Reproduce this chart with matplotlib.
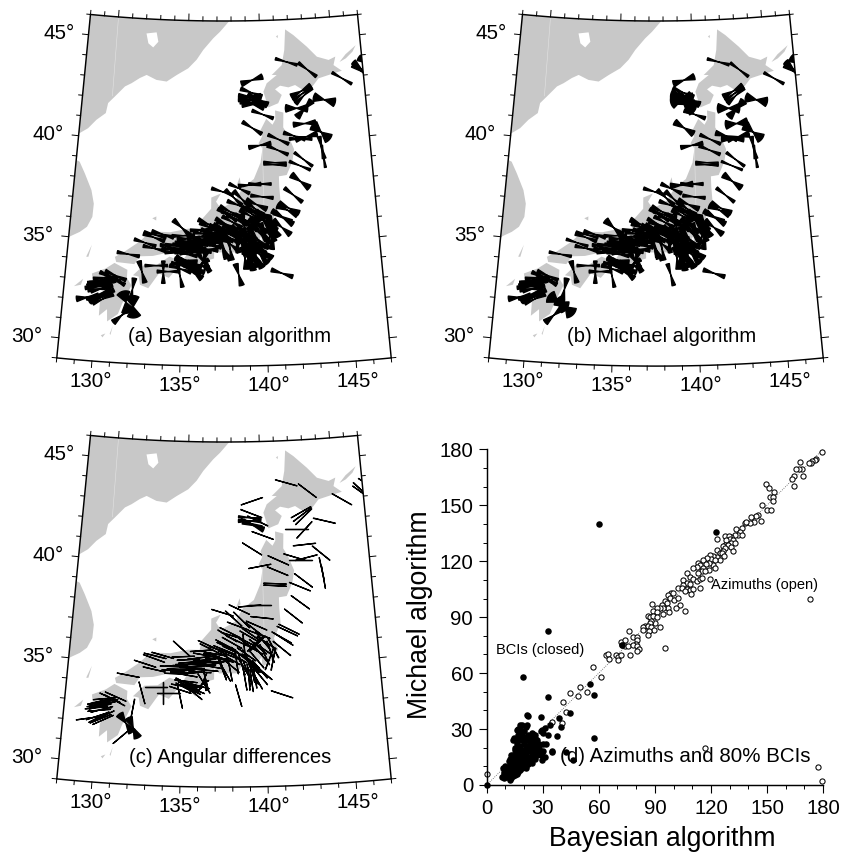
import numpy as np
import matplotlib
matplotlib.use('Agg')
import matplotlib.pyplot as plt
from matplotlib.collections import PolyCollection
from matplotlib.patches import Polygon

plt.rcParams['font.family'] = ['Liberation Sans', 'DejaVu Sans']

# ---- stress stations (lon, lat, azimuth and 80% BCI width for both algorithms) ----
stn_lon = [
    141.79, 143.21, 145.52, 146.91, 146.91, 147.39,
    139.40, 139.34, 139.23, 139.22, 139.33, 139.46, 139.76, 140.07,
    142.70, 142.78, 142.86, 142.34, 142.86, 144.23, 142.81, 143.87, 142.11, 142.89, 142.51, 143.84,
    143.92, 139.35, 141.05, 139.83, 140.98, 140.78, 140.78, 142.37, 142.62, 142.35, 141.87,
    139.78, 139.13, 138.47, 137.40, 138.11, 139.89, 138.61, 139.54, 139.41, 138.37,
    137.87, 137.71, 138.02, 137.60, 137.70, 137.50, 136.64, 138.74, 139.56, 139.46,
    140.14, 141.08, 141.45, 141.56, 141.20, 141.07, 140.54, 140.37, 140.52, 140.28,
    139.13, 139.20, 139.30, 138.28, 138.58, 139.22, 139.02, 139.17, 139.38, 138.38, 140.98,
    136.95, 137.05, 136.95, 137.25, 137.40, 137.55, 137.87, 136.29, 136.35,
    134.89, 133.27, 133.74, 133.21, 132.68, 133.25, 131.70, 132.58, 133.42, 133.86, 134.16, 134.87,
    134.87, 135.21, 135.20, 135.20, 135.37, 135.50, 135.66, 135.95, 136.19, 136.00, 136.40,
    135.06, 135.83, 134.93, 136.04, 134.72, 135.32, 135.93, 136.12, 136.54, 137.25, 135.07, 135.40,
    136.64, 136.03, 136.65, 136.74, 137.40, 137.88, 138.48, 138.07, 138.89, 138.99, 139.50, 139.89,
    139.48, 138.77, 139.08, 139.69,
    131.02, 130.99, 130.13, 130.00, 130.14, 129.92, 130.37, 130.15, 130.50, 129.45, 130.22, 130.37,
    130.12, 132.07, 131.72, 132.17, 131.53,
    139.9, 139.7, 140.0, 139.6, 139.3, 139.0, 138.8, 138.3, 138.0, 139.1, 139.2, 139.7, 139.9,
    134.3, 134.6, 134.4, 135.2, 135.5, 135.7, 136.0, 136.3, 136.3, 136.45, 135.5, 135.2, 134.6,
    135.0, 136.3, 137.0, 137.4, 137.9, 138.3, 137.8, 138.7, 138.9, 139.5, 139.7, 139.3, 139.0,
    135.3, 135.0, 135.5, 135.2, 135.7,
    130.2, 130.3, 130.05, 130.4, 130.25, 130.1, 130.4, 130.0, 130.7,
]
stn_lat = [
    43.92, 43.48, 42.94, 43.29, 43.18, 43.55,
    43.07, 42.46, 42.26, 42.10, 41.97, 41.87, 42.09, 41.37,
    42.44, 42.32, 42.21, 41.61, 41.56, 41.95, 40.84, 40.37, 40.25, 40.19, 40.10, 39.61,
    39.17, 40.72, 40.12, 39.85, 39.59, 38.98, 38.88, 38.78, 39.08, 38.01, 37.35,
    37.95, 37.91, 37.74, 37.59, 37.30, 37.32, 37.23, 36.94, 36.75, 36.93,
    36.61, 36.45, 36.45, 36.00, 35.89, 35.76, 35.81, 35.99, 36.04, 36.06,
    36.08, 36.32, 36.62, 36.71, 36.23, 35.78, 35.82, 35.63, 35.26, 35.27,
    35.20, 35.05, 35.02, 35.13, 35.05, 34.70, 34.32, 34.24, 34.40, 33.50, 33.52,
    35.54, 35.33, 35.17, 35.13, 34.80, 34.70, 34.77, 34.10, 34.30,
    35.79, 35.39, 35.43, 35.26, 34.98, 34.72, 34.37, 33.54, 33.88, 33.57, 33.61, 33.40,
    33.76, 34.09, 34.19, 34.10, 33.96, 33.82, 33.65, 33.98, 34.10, 33.95, 34.27,
    34.93, 34.93, 34.62, 34.65, 34.77, 35.26, 35.35, 35.71, 35.98, 35.75, 34.71, 35.13,
    35.13, 34.96, 34.94, 35.53, 34.90, 35.31, 35.53, 35.70, 35.53, 35.28, 35.28, 34.63,
    34.30, 34.32, 34.97, 34.78,
    33.28, 33.09, 33.00, 32.83, 32.74, 32.67, 33.14, 32.70, 33.03, 32.11, 32.14, 32.09,
    32.21, 32.66, 32.01, 31.80, 31.35,
    35.8, 35.6, 35.5, 35.9, 35.8, 36.0, 36.2, 36.2, 36.1, 36.4, 36.5, 36.5, 36.2,
    34.9, 34.95, 34.7, 35.05, 34.85, 35.05, 35.15, 35.25, 35.05, 34.75, 34.6, 34.5, 34.55,
    35.4, 35.5, 35.55, 35.3, 35.0, 35.4, 35.5, 34.9, 34.7, 34.9, 34.45, 34.55, 34.5,
    33.9, 33.95, 34.05, 33.85, 33.8,
    32.95, 32.85, 32.9, 32.9, 32.6, 32.55, 32.3, 32.25, 33.2,
]
az_bayes = [
    106, 127, 120, 132, 125, 121,
    71, 110, 90, 99, 102, 98, 117, 110,
    61, 53, 45, 90, 42, 104, 84, 130, 107, 75, 90, 167,
    170, 122, 114, 79, 113, 92, 93, 112, 127, 126, 128,
    90, 85, 115, 107, 133, 96, 135, 114, 128, 111,
    117, 122, 107, 118, 115, 112, 117, 174, 45, 45,
    124, 120, 115, 116, 123, 130, 153, 162, 10, 20,
    130, 140, 135, 172, 163, 168, 176, 171, 170, 164, 108,
    93, 93, 87, 76, 159, 150, 169, 148, 175,
    133, 104, 106, 110, 108, 103, 101, 165, 90, 0, 90, 168,
    108, 115, 97, 118, 112, 120, 130, 105, 23, 59, 166,
    94, 85, 92, 92, 92, 87, 83, 86, 115, 108, 85, 85,
    95, 85, 100, 110, 162, 120, 130, 115, 125, 150, 140, 130,
    150, 170, 160, 140,
    114, 119, 77, 78, 77, 83, 85, 92, 82, 82, 68, 66,
    63, 10, 165, 175, 50,
    125, 140, 155, 130, 120, 125, 118, 115, 120, 120, 125, 110, 140,
    92, 87, 95, 90, 92, 88, 85, 85, 95, 95, 85, 100, 92,
    88, 100, 100, 105, 130, 120, 112, 150, 160, 135, 140, 155, 172,
    108, 100, 110, 118, 112,
    80, 78, 85, 80, 75, 85, 65, 72, 115,
]
az_michael = [
    105, 127, 119, 134, 126, 122,
    71, 112, 100, 82, 118, 125, 115, 110,
    60, 52, 46, 90, 43, 102, 83, 128, 106, 76, 90, 168,
    170, 122, 114, 79, 112, 92, 93, 112, 127, 126, 128,
    90, 85, 115, 107, 132, 96, 133, 113, 127, 110,
    116, 121, 107, 117, 115, 112, 116, 175, 47, 47,
    122, 119, 115, 116, 122, 128, 150, 160, 12, 22,
    128, 138, 134, 172, 163, 168, 176, 172, 171, 164, 108,
    93, 93, 87, 77, 159, 150, 169, 148, 175,
    132, 104, 106, 110, 108, 103, 101, 165, 90, 0, 90, 168,
    108, 114, 97, 116, 112, 119, 129, 105, 24, 58, 166,
    94, 85, 92, 93, 92, 87, 83, 86, 115, 108, 85, 85,
    95, 85, 100, 110, 162, 120, 129, 115, 125, 149, 140, 130,
    150, 170, 160, 140,
    114, 118, 77, 79, 77, 84, 85, 92, 82, 82, 68, 66,
    63, 12, 125, 135, 50,
    124, 139, 154, 130, 119, 125, 118, 115, 119, 120, 124, 110, 140,
    92, 87, 94, 90, 92, 88, 85, 86, 95, 95, 85, 100, 92,
    88, 100, 100, 105, 129, 120, 112, 149, 160, 135, 140, 154, 172,
    108, 100, 110, 117, 112,
    80, 78, 85, 80, 76, 85, 65, 72, 115,
]
bci_bayes = [
    10, 12, 10, 22, 18, 25,
    22, 15, 25, 28, 30, 35, 25, 12,
    22, 15, 16, 30, 25, 35, 20, 42, 14, 22, 12, 15,
    8, 14, 12, 16, 12, 8, 8, 10, 10, 25, 14,
    10, 14, 12, 12, 14, 12, 16, 20, 20, 14,
    16, 14, 12, 16, 14, 18, 16, 14, 22, 20,
    24, 20, 24, 22, 22, 22, 26, 24, 24, 20,
    20, 22, 24, 18, 22, 22, 26, 24, 26, 20, 16,
    14, 12, 14, 14, 18, 18, 16, 18, 14,
    18, 12, 14, 14, 12, 12, 12, 18, 10, 14, 12, 14,
    14, 20, 14, 20, 20, 22, 24, 14, 16, 14, 16,
    12, 14, 16, 14, 14, 16, 16, 12, 16, 18, 14, 16,
    14, 14, 14, 16, 18, 18, 20, 18, 20, 22, 24, 26,
    26, 26, 24, 24,
    14, 14, 12, 14, 14, 14, 12, 14, 14, 22, 18, 14,
    18, 18, 55, 55, 22,
    22, 22, 24, 20, 18, 16, 14, 14, 14, 16, 16, 18, 22,
    12, 14, 14, 14, 14, 14, 12, 12, 14, 16, 16, 14, 12,
    12, 14, 14, 14, 18, 16, 14, 24, 24, 26, 26, 24, 26,
    16, 14, 16, 16, 18,
    14, 14, 14, 14, 14, 14, 16, 14, 14,
]
bci_michael = [
    10, 10, 10, 25, 22, 35,
    25, 15, 45, 60, 65, 50, 25, 14,
    22, 15, 16, 38, 30, 38, 35, 40, 20, 25, 25, 15,
    8, 25, 12, 16, 12, 8, 8, 8, 10, 25, 12,
    12, 22, 14, 12, 16, 12, 16, 20, 20, 14,
    16, 14, 12, 14, 14, 16, 22, 14, 26, 20,
    24, 20, 24, 22, 22, 22, 24, 22, 24, 20,
    22, 26, 24, 16, 22, 24, 26, 24, 26, 14, 16,
    14, 12, 14, 14, 16, 18, 14, 20, 14,
    26, 10, 14, 14, 10, 12, 10, 18, 10, 14, 12, 12,
    14, 18, 14, 18, 20, 20, 22, 14, 16, 14, 16,
    12, 14, 16, 14, 14, 16, 18, 14, 20, 20, 14, 16,
    14, 14, 14, 16, 18, 18, 20, 20, 24, 22, 24, 26,
    26, 24, 24, 24,
    14, 16, 12, 14, 14, 14, 12, 14, 14, 22, 16, 14,
    16, 20, 55, 55, 24,
    20, 22, 24, 18, 18, 16, 14, 14, 14, 16, 16, 18, 22,
    12, 14, 14, 14, 14, 14, 12, 12, 14, 16, 16, 14, 12,
    12, 14, 14, 14, 18, 16, 14, 24, 24, 26, 26, 24, 26,
    16, 14, 14, 16, 18,
    14, 14, 16, 14, 14, 14, 16, 14, 14,
]

# ---- panel d ----
open_x = [
    179.7, 176.5, 175.6, 174.2, 173.8, 172.4, 167.9, 168.8, 167.2, 165.8, 169.2, 164.4, 163.3, 164.3,
    149.7, 151.2, 153.8, 151.5, 153.1, 153.3, 147.4, 150, 152.2, 145, 144, 147, 141.2, 143, 140.8, 138.2, 139,
    136.4, 133.7, 135.8, 134.6, 136.9, 132.8, 131, 127.4, 129.6, 130.1, 123, 128.3, 131.9, 131, 132.8,
    127.4, 129.2, 126.6, 131, 131.9, 127.4, 126.6, 123, 124.8, 125.7, 127.1, 123, 124.8, 121.2, 119.4,
    120.3, 122.1, 118, 115.9, 121.2, 119.1, 122.1, 117.6, 113.2, 114.4, 115.9, 119.1, 119.4, 112.3, 110.5,
    115, 113.2, 116.8, 107, 108.7, 110.5, 112.3, 114, 115, 105.2, 107, 108.7, 105.2, 102.5, 104.3, 107,
    108.7, 110.5, 106, 109.1, 114,
    98.9, 97.1, 99.8, 98, 100.2, 102.5, 103.4, 101.2, 106, 95.4, 96.3, 93.6, 88.6, 97.1, 97.7, 94.5, 92.7,
    90.9, 89.1, 94.1, 90.9, 86.5, 87.3, 89.1, 90.9, 90, 87.9, 87.3, 84.7, 83.8, 86.5, 88.2, 89.5, 93, 87,
    86.1, 83.8, 95.4,
    76.3, 71.7, 74, 72.2, 74, 75.8, 78.1, 80.2, 80.2, 79.9, 78.4, 80.2, 81.6, 80.2, 76.6,
    64, 65, 65.6, 69.2, 70.4, 71.7, 70.4, 57, 61, 49.9, 44.6, 53.8, 49, 41, 42.2, 40.1, 35.1,
    172.9, 116.8, 177.5, 179.5, 0,
]
open_y = [
    178.6, 174.8, 174.3, 173.6, 172.5, 172.9, 173.2, 169.5, 169.3, 169.3, 165.7, 165.9, 164.1, 160.2,
    161.4, 159.3, 157.3, 154.6, 154.6, 152.5, 150, 147.5, 147.3, 144.8, 144.3, 141.3, 143.8, 141, 140.5, 140.4, 141.2,
    137.7, 137.3, 135.9, 134.1, 134.1, 134.1, 133.2, 133.6, 133.6, 132, 132.1, 131.4, 131.4, 129.6, 130,
    128.8, 128.8, 127.9, 127.5, 125.7, 127, 125.5, 126.1, 124.6, 124.3, 122.9, 122.5, 120.4, 122.9, 123.4,
    121.1, 120.7, 121.6, 120.7, 118, 118.9, 116.3, 118.6, 118.9, 118, 116.3, 115.4, 110.4, 117.1, 116.3,
    114.5, 113.6, 114.5, 113.6, 111.3, 110.4, 109.6, 110.4, 110.9, 110, 108.2, 107.9, 107.3, 105.5, 105.5, 105,
    104.6, 105, 103.8, 102.5, 105.5,
    102.9, 102, 102.9, 100.2, 99.3, 100.2, 96.6, 94.8, 93.4, 98.4, 97.5, 96.6, 97.3, 94.8, 92.5, 94.8, 94.8,
    94.8, 93.4, 91.8, 92.5, 90.4, 90, 90.4, 90, 86.8, 88.2, 86.8, 85.4, 84.6, 85, 84.6, 83.2, 84.8, 82.7,
    80.5, 83.2, 73.4,
    82.7, 76.6, 77.5, 75.2, 74.3, 74.3, 79.3, 79.3, 77.9, 75.7, 74.8, 74.3, 72.9, 71.6, 69.8,
    69.5, 70.2, 67.5, 69.8, 68.9, 69.6, 67.1, 63.2, 57.9, 52.5, 49.3, 50, 47.5, 44.3, 39.1, 33.2, 33.8,
    99.5, 19.8, 9.5, 2.3, 5.9,
]
closed_x = [
    59.9, 122.6, 33, 19.3, 33, 72.2, 55.4, 57.2, 57.4, 44.6, 34.8, 42.4, 46.4, 21.9, 21.8, 29, 38.7, 39.8,
    32.6, 37.8, 0, 33.9, 31.2, 29.4,
    8, 9, 9.5, 10, 10.5, 11, 11, 11, 12, 12, 12, 12.5, 13, 13, 13, 13, 14, 14, 14, 14, 14.5, 15, 15, 15, 15, 15,
    16, 16, 16, 16, 16, 16, 17, 17, 17, 17, 17, 17, 18, 18, 18, 18, 18, 18, 19, 19, 19, 19, 19, 19,
    20, 20, 20, 20, 20, 21, 21, 21, 21, 22, 22, 22, 22, 23, 23, 23, 24, 24, 24, 25, 25, 25, 25,
    26, 26, 27, 27, 28, 28, 29, 29, 30, 30, 31, 17, 18, 19, 21, 15, 14.5, 16.5, 22, 26, 24,
    12.5, 21, 21.4, 17.8, 16.4, 20, 14.3, 12.5, 8.9, 29.4, 34.8, 29.4, 25.9, 27, 32, 24, 18, 16, 13, 15,
    10, 9, 12, 14, 16, 18, 22, 24, 26, 28, 30, 19, 21, 23, 17, 15, 20, 22, 25, 27,
]
closed_y = [
    139.8, 135.4, 82.7, 57.9, 47, 74.8, 53.9, 48.2, 25, 38.4, 18, 17.7, 13.6, 36.8, 37.7, 36.4, 35.7, 31.2,
    27, 26.1, 0, 32.3, 30.5, 29.6,
    4.5, 4, 6, 5, 7, 4.5, 6, 8, 5, 7, 9, 10, 3.5, 6, 8, 11, 5, 7, 9, 12, 14, 5.5, 8, 10, 13, 16,
    6, 8, 10.5, 13, 15, 18, 7, 9, 12, 14, 17, 20, 8, 10, 13, 15, 18, 21, 9, 11, 14, 16, 19, 24,
    10, 13, 15, 22, 26, 10, 14, 17, 20, 12, 15, 19, 24, 13, 18, 22, 14, 16, 21, 17, 20, 24, 27.5,
    14, 19, 20, 16, 22, 18, 16, 29, 22, 28, 15, 27, 30, 32, 31, 24, 25, 30, 27, 25, 28,
    2.6, 9, 32, 32, 29.4, 29, 24, 14.2, 8.9, 13.3, 17.8, 17.8, 26.7, 24, 22, 12, 26, 22, 16, 20,
    10, 7, 13, 16, 11, 12, 11, 19, 16, 20, 18, 28, 24, 26, 24, 19, 18, 21, 23, 22,
]

# ---- coastlines (lon, lat) ----
coast_mainland = [(137.88, 46.5), (137.88, 46.0), (137.22, 45.47), (136.75, 45.15), (136.06, 44.57), (135.61, 44.08),
                  (135.05, 43.65), (134.27, 43.30), (133.6, 42.96), (132.9, 43.02), (132.22, 43.24), (131.77, 43.07),
                  (131.23, 42.79), (130.8, 42.61), (130.17, 42.08), (129.75, 41.73), (129.65, 41.23), (129.07, 40.86),
                  (128.57, 40.41), (128.05, 40.13), (127.5, 40.1), (127.5, 46.5)]
coast_korea = [(127.5, 38.8), (127.9, 38.83), (128.23, 38.73), (128.63, 38.18), (129.14, 37.39), (129.36, 36.73),
               (129.34, 36.08), (129.06, 35.57), (128.65, 35.29), (127.95, 34.96), (127.5, 34.9)]
lake_khanka = [(132.05, 45.28), (132.76, 45.36), (132.91, 44.9), (132.57, 44.61), (132.22, 44.8)]
coast_honshu = [(140.9, 41.55), (141.45, 41.43), (141.4, 40.7), (141.7, 40.3), (142.05, 39.6), (141.9, 39.0),
                (141.5, 38.35), (141.0, 38.3), (141.0, 37.8), (141.05, 37.0), (140.6, 36.3), (140.85, 35.75),
                (140.4, 35.2), (139.85, 34.9), (139.8, 35.4), (139.65, 35.2), (139.15, 35.2), (138.85, 34.6),
                (138.75, 35.1), (138.25, 34.6), (137.2, 34.6), (136.9, 34.85), (136.9, 34.3), (136.3, 34.15),
                (135.8, 33.45), (135.1, 33.9), (135.1, 34.3), (135.4, 34.65), (134.7, 34.75), (133.9, 34.5),
                (133.2, 34.35), (132.4, 34.3), (132.1, 33.9), (131.0, 33.95), (130.9, 34.2), (131.4, 34.45),
                (132.3, 35.0), (133.0, 35.55), (134.2, 35.55), (135.3, 35.75), (136.0, 35.75), (136.1, 36.2),
                (136.7, 36.75), (136.7, 37.3), (137.3, 37.5), (137.0, 37.1), (137.3, 36.75), (138.2, 37.15),
                (138.7, 37.8), (139.4, 38.2), (139.85, 39.0), (140.0, 39.7), (139.75, 39.95), (140.0, 40.3),
                (139.9, 40.6), (140.3, 41.15), (140.7, 40.85), (140.9, 41.1)]
coast_hokkaido = [(141.81, 45.52), (142.37, 45.22), (143.27, 44.61), (143.92, 44.09), (144.71, 43.89), (145.19, 44.03),
                  (145.02, 43.62), (145.56, 43.31), (144.63, 43.15), (143.93, 43.02), (143.44, 42.6), (142.76, 42.53),
                  (142.32, 42.76), (141.86, 42.66), (141.3, 42.76), (140.95, 42.59), (141.39, 42.3), (141.13, 41.9),
                  (140.46, 41.71), (140.16, 42.49), (140.4, 42.9), (141.1, 43.29), (140.76, 43.3), (141.47, 43.77),
                  (141.69, 44.51)]
coast_shikoku = [(132.05, 33.35), (132.7, 33.9), (133.5, 33.95), (134.2, 34.35), (134.7, 34.2), (134.75, 33.85),
                 (134.2, 33.3), (133.6, 33.5), (133.0, 32.75), (132.5, 32.9), (132.4, 33.3)]
coast_kyushu = [(130.9, 33.9), (131.7, 33.6), (131.7, 33.2), (132.0, 32.85), (131.5, 31.9), (131.3, 31.4),
                (130.7, 31.0), (130.65, 31.6), (130.2, 31.25), (130.2, 31.9), (130.6, 32.6), (130.2, 32.6),
                (129.75, 32.6), (129.6, 33.3), (130.4, 33.6)]
coast_islands = [
    [(145.45, 43.75), (145.9, 44.1), (146.66, 44.5), (146.4, 44.2), (145.9, 43.9)],  # Kunashiri
    [(138.25, 37.8), (138.5, 38.3), (138.55, 38.0)],  # Sado
    [(133.05, 36.2), (133.3, 36.3), (133.3, 36.1)],  # Oki
    [(129.17, 34.1), (129.45, 34.7), (129.3, 34.1)],  # Tsushima
    [(128.6, 32.6), (129.1, 33.0), (129.0, 32.7)],  # Goto
    [(130.9, 30.4), (131.05, 30.8), (130.95, 30.35)],  # Tanegashima
    [(130.4, 30.3), (130.65, 30.4), (130.5, 30.2)],  # Yakushima
    [(141.15, 45.2), (141.3, 45.25), (141.25, 45.1)],  # Rishiri
]
seams = [(130, 42.1, 46), (140, 36, 40)]

panels = [('(a) Bayesian algorithm', 0, 0), ('(b) Michael algorithm', 432, 0), ('(c) Angular differences', 0, 421)]
lat_labels = [45, 40, 35, 30]
lon_labels = [130, 135, 140, 145]


# simple conic projection, map units are output pixels
def project(lon, lat):
    th = np.radians(0.59 * (np.asarray(lon, dtype=float) - 137.5))
    r = 1367 + (46 - np.asarray(lat, dtype=float)) * 20.3
    return r * np.sin(th), -r * np.cos(th)


def xy_list(pts):
    x, y = project([p[0] for p in pts], [p[1] for p in pts])
    return np.column_stack([x, y])


# two opposite sectors between azimuths a1 and a2
def bowtie(lon, lat, a1, a2, rad=11.2):
    cx, cy = project(lon, lat)
    ang = np.radians(np.linspace(a1, a2, 12))
    pts = [(cx, cy)]
    pts += [(cx + rad * np.sin(a), cy + rad * np.cos(a)) for a in ang]
    pts.append((cx, cy))
    pts += [(cx - rad * np.sin(a), cy - rad * np.cos(a)) for a in ang]
    return pts


def draw_map(fig, title, ox, oy, ties):
    ax = fig.add_axes([(ox + 10) / 841, 1 - (oy + 400) / 856, 398 / 841, 400 / 856])
    ax.set_xlim(10 - 224, 408 - 224)
    ax.set_ylim(-1746, -1346)
    ax.set_axis_off()

    # frame outline
    side_lat = np.arange(29, 46.01, 0.5)
    side_lon = np.arange(128, 147.01, 0.5)
    frame_pts = ([(128, v) for v in side_lat] + [(v, 46) for v in side_lon]
                 + [(147, v) for v in side_lat[::-1]] + [(v, 29) for v in side_lon[::-1]])
    frame = Polygon(xy_list(frame_pts), closed=True, fill=False, edgecolor='black', lw=1.05, zorder=5)
    ax.add_patch(frame)

    # land
    for poly in [coast_mainland, coast_korea, coast_honshu, coast_hokkaido, coast_shikoku, coast_kyushu] + coast_islands:
        p = Polygon(xy_list(poly), closed=True, facecolor='#c8c8c8', edgecolor='none', zorder=1)
        ax.add_patch(p)
        p.set_clip_path(frame)
    ax.add_patch(Polygon(xy_list(lake_khanka), closed=True, facecolor='white', edgecolor='none', zorder=1.5))
    for lon, lat0, lat1 in seams:
        sx, sy = project([lon, lon], [lat0, lat1])
        ax.plot(sx, sy, color='#e4e4e4', lw=0.4, zorder=1.6)

    # stress symbols
    pc = PolyCollection(ties, facecolor='black', edgecolor='black', lw=0.95, zorder=3)
    ax.add_collection(pc)
    pc.set_clip_path(frame)

    # ticks on all four sides
    for lat in range(29, 47):
        size = 0.42 if lat % 5 == 0 else 0.26
        for lon, sgn in ((128, -1), (147, 1)):
            tx, ty = project([lon, lon + sgn * size], [lat, lat])
            ax.plot(tx, ty, color='black', lw=0.7, clip_on=False, zorder=5)
    for lon in range(128, 148):
        size = 0.32 if lon % 5 == 0 else 0.2
        for lat, sgn in ((29, -1), (46, 1)):
            tx, ty = project([lon, lon], [lat, lat + sgn * size])
            ax.plot(tx, ty, color='black', lw=0.7, clip_on=False, zorder=5)

    for lat in lat_labels:
        tx, ty = project(128 - 0.95, lat)
        ax.text(tx, ty, f'{lat}°', ha='right', va='center', fontsize=14.8, clip_on=False)
    for lon in lon_labels:
        tx, ty = project(lon, 29 - 1.0)
        ax.text(tx, ty, f'{lon}°', ha='center', va='center', fontsize=14.8, clip_on=False)

    tx, ty = project(137.5, 30.3)
    ax.text(tx + 6, ty + 3, title, ha='center', va='center', fontsize=14.6, zorder=6)


fig = plt.figure(figsize=(8.41, 8.56), dpi=100)

# BCI wedges are drawn a bit wider than the listed width, as in the original symbols
width_scale = 1.3
ties_a = [bowtie(lo, la, a - width_scale * w / 2, a + width_scale * w / 2)
          for lo, la, a, w in zip(stn_lon, stn_lat, az_bayes, bci_bayes)]
ties_b = [bowtie(lo, la, a - width_scale * w / 2, a + width_scale * w / 2)
          for lo, la, a, w in zip(stn_lon, stn_lat, az_michael, bci_michael)]
ties_c = [bowtie(lo, la, a, b) for lo, la, a, b in zip(stn_lon, stn_lat, az_bayes, az_michael)]

for (title, ox, oy), ties in zip(panels, (ties_a, ties_b, ties_c)):
    draw_map(fig, title, ox, oy, ties)

# panel d
ax = fig.add_axes([486.7 / 841, 1 - 785 / 856, 336.3 / 841, 335.7 / 856])
ax.plot([0, 180], [0, 180], color='#555555', ls=':', lw=0.6, zorder=1)
ax.scatter(open_x, open_y, s=14, facecolor='white', edgecolor='black', lw=0.75, zorder=2, clip_on=False)
ax.scatter(closed_x, closed_y, s=22, color='black', lw=0, zorder=3, clip_on=False)
ax.set_xlim(0, 180)
ax.set_ylim(0, 180)
ax.set_xticks(np.arange(0, 181, 30))
ax.set_yticks(np.arange(0, 181, 30))
ax.set_xticks(np.arange(0, 181, 10), minor=True)
ax.set_yticks(np.arange(0, 181, 10), minor=True)
ax.tick_params(which='major', length=5.8, width=0.8, labelsize=14.6, pad=4)
ax.tick_params(which='minor', length=2.9, width=0.7)
ax.spines['top'].set_visible(False)
ax.spines['right'].set_visible(False)
ax.spines['left'].set_linewidth(1.05)
ax.spines['bottom'].set_linewidth(1.05)
ax.patch.set_alpha(0)
ax.text(120, 107.5, 'Azimuths (open)', fontsize=10.5, va='center', zorder=5)
ax.text(5, 72.5, 'BCIs (closed)', fontsize=10.5, va='center', zorder=5)
ax.text(39, 15.5, '(d) Azimuths and 80% BCIs', fontsize=14.8, va='center', zorder=5)
fig.text(662 / 841, 1 - 839 / 856, 'Bayesian algorithm', fontsize=19.2, ha='center', va='center')
fig.text(420 / 841, 1 - 615 / 856, 'Michael algorithm', fontsize=19.2, rotation=90, ha='center', va='center')

fig.savefig('out.png', dpi=100)
